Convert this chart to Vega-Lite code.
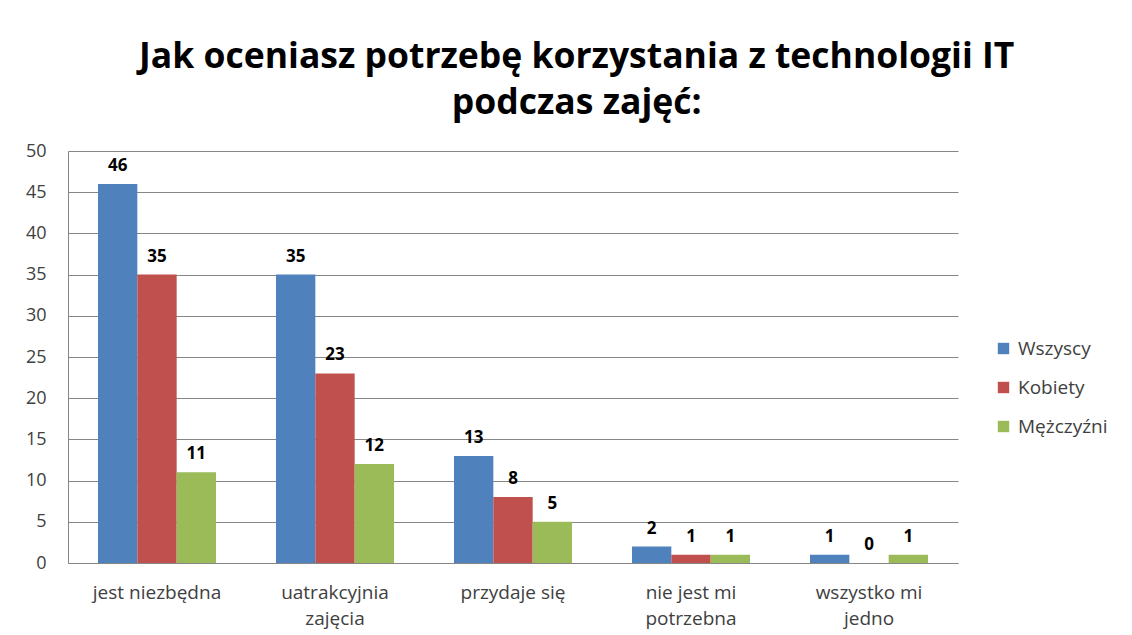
{
  "$schema": "https://vega.github.io/schema/vega-lite/v6.json",
  "width": 890,
  "height": 412,
  "padding": {"left": 25, "top": 39, "right": 10, "bottom": 5},
  "background": "white",
  "title": {
    "text": ["Jak oceniasz potrzebę korzystania z technologii IT", "podczas zajęć:"],
    "font": "Open Sans",
    "fontSize": 35.5,
    "fontWeight": "bold",
    "color": "#000000",
    "lineHeight": 46,
    "anchor": "middle",
    "frame": "bounds",
    "dx": 10,
    "offset": 21
  },
  "data": {
    "values": [
      {"kategoria": "jest niezbędna", "grupa": "Wszyscy", "wartosc": 46},
      {"kategoria": "jest niezbędna", "grupa": "Kobiety", "wartosc": 35},
      {"kategoria": "jest niezbędna", "grupa": "Mężczyźni", "wartosc": 11},
      {"kategoria": "uatrakcyjnia zajęcia", "grupa": "Wszyscy", "wartosc": 35},
      {"kategoria": "uatrakcyjnia zajęcia", "grupa": "Kobiety", "wartosc": 23},
      {"kategoria": "uatrakcyjnia zajęcia", "grupa": "Mężczyźni", "wartosc": 12},
      {"kategoria": "przydaje się", "grupa": "Wszyscy", "wartosc": 13},
      {"kategoria": "przydaje się", "grupa": "Kobiety", "wartosc": 8},
      {"kategoria": "przydaje się", "grupa": "Mężczyźni", "wartosc": 5},
      {"kategoria": "nie jest mi potrzebna", "grupa": "Wszyscy", "wartosc": 2},
      {"kategoria": "nie jest mi potrzebna", "grupa": "Kobiety", "wartosc": 1},
      {"kategoria": "nie jest mi potrzebna", "grupa": "Mężczyźni", "wartosc": 1},
      {"kategoria": "wszystko mi jedno", "grupa": "Wszyscy", "wartosc": 1},
      {"kategoria": "wszystko mi jedno", "grupa": "Kobiety", "wartosc": 0},
      {"kategoria": "wszystko mi jedno", "grupa": "Mężczyźni", "wartosc": 1}
    ]
  },
  "encoding": {
    "x": {
      "field": "kategoria",
      "type": "nominal",
      "sort": ["jest niezbędna", "uatrakcyjnia zajęcia", "przydaje się", "nie jest mi potrzebna", "wszystko mi jedno"],
      "scale": {"paddingInner": 0.337, "paddingOuter": 0.1685},
      "axis": {
        "title": null,
        "labelAngle": 0,
        "labelFont": "Open Sans",
        "labelFontSize": 19,
        "labelColor": "#404040",
        "labelPadding": 20,
        "labelLineHeight": 26,
        "ticks": false,
        "domainColor": "#868686",
        "labelExpr": "datum.value == 'uatrakcyjnia zajęcia' ? ['uatrakcyjnia', 'zajęcia'] : datum.value == 'nie jest mi potrzebna' ? ['nie jest mi', 'potrzebna'] : datum.value == 'wszystko mi jedno' ? ['wszystko mi', 'jedno'] : datum.value"
      }
    },
    "xOffset": {
      "field": "grupa",
      "type": "nominal",
      "sort": ["Wszyscy", "Kobiety", "Mężczyźni"]
    },
    "y": {
      "field": "wartosc",
      "type": "quantitative",
      "scale": {"domain": [0, 50], "nice": false},
      "axis": {
        "title": null,
        "values": [0, 5, 10, 15, 20, 25, 30, 35, 40, 45, 50],
        "grid": true,
        "gridColor": "#868686",
        "domainColor": "#868686",
        "ticks": false,
        "labelFont": "Open Sans",
        "labelFontSize": 18,
        "labelColor": "#404040",
        "labelPadding": 22
      }
    }
  },
  "layer": [
    {
      "mark": {"type": "bar"},
      "encoding": {
        "color": {
          "field": "grupa",
          "type": "nominal",
          "sort": ["Wszyscy", "Kobiety", "Mężczyźni"],
          "scale": {"domain": ["Wszyscy", "Kobiety", "Mężczyźni"], "range": ["#4F81BD", "#C0504D", "#9BBB59"]},
          "legend": {
            "title": null,
            "orient": "none",
            "legendX": 926,
            "legendY": 188,
            "symbolType": "square",
            "symbolSize": 130,
            "symbolStrokeWidth": 0,
            "labelFont": "Open Sans",
            "labelFontSize": 19,
            "labelColor": "#404040",
            "rowPadding": 19,
            "labelOffset": 5
          }
        }
      }
    },
    {
      "mark": {"type": "text", "font": "Open Sans", "fontSize": 17, "fontWeight": "bold", "color": "#000000", "baseline": "alphabetic", "dy": -13},
      "encoding": {
        "text": {"field": "wartosc", "type": "quantitative"}
      }
    }
  ],
  "config": {
    "view": {"stroke": null}
  }
}
